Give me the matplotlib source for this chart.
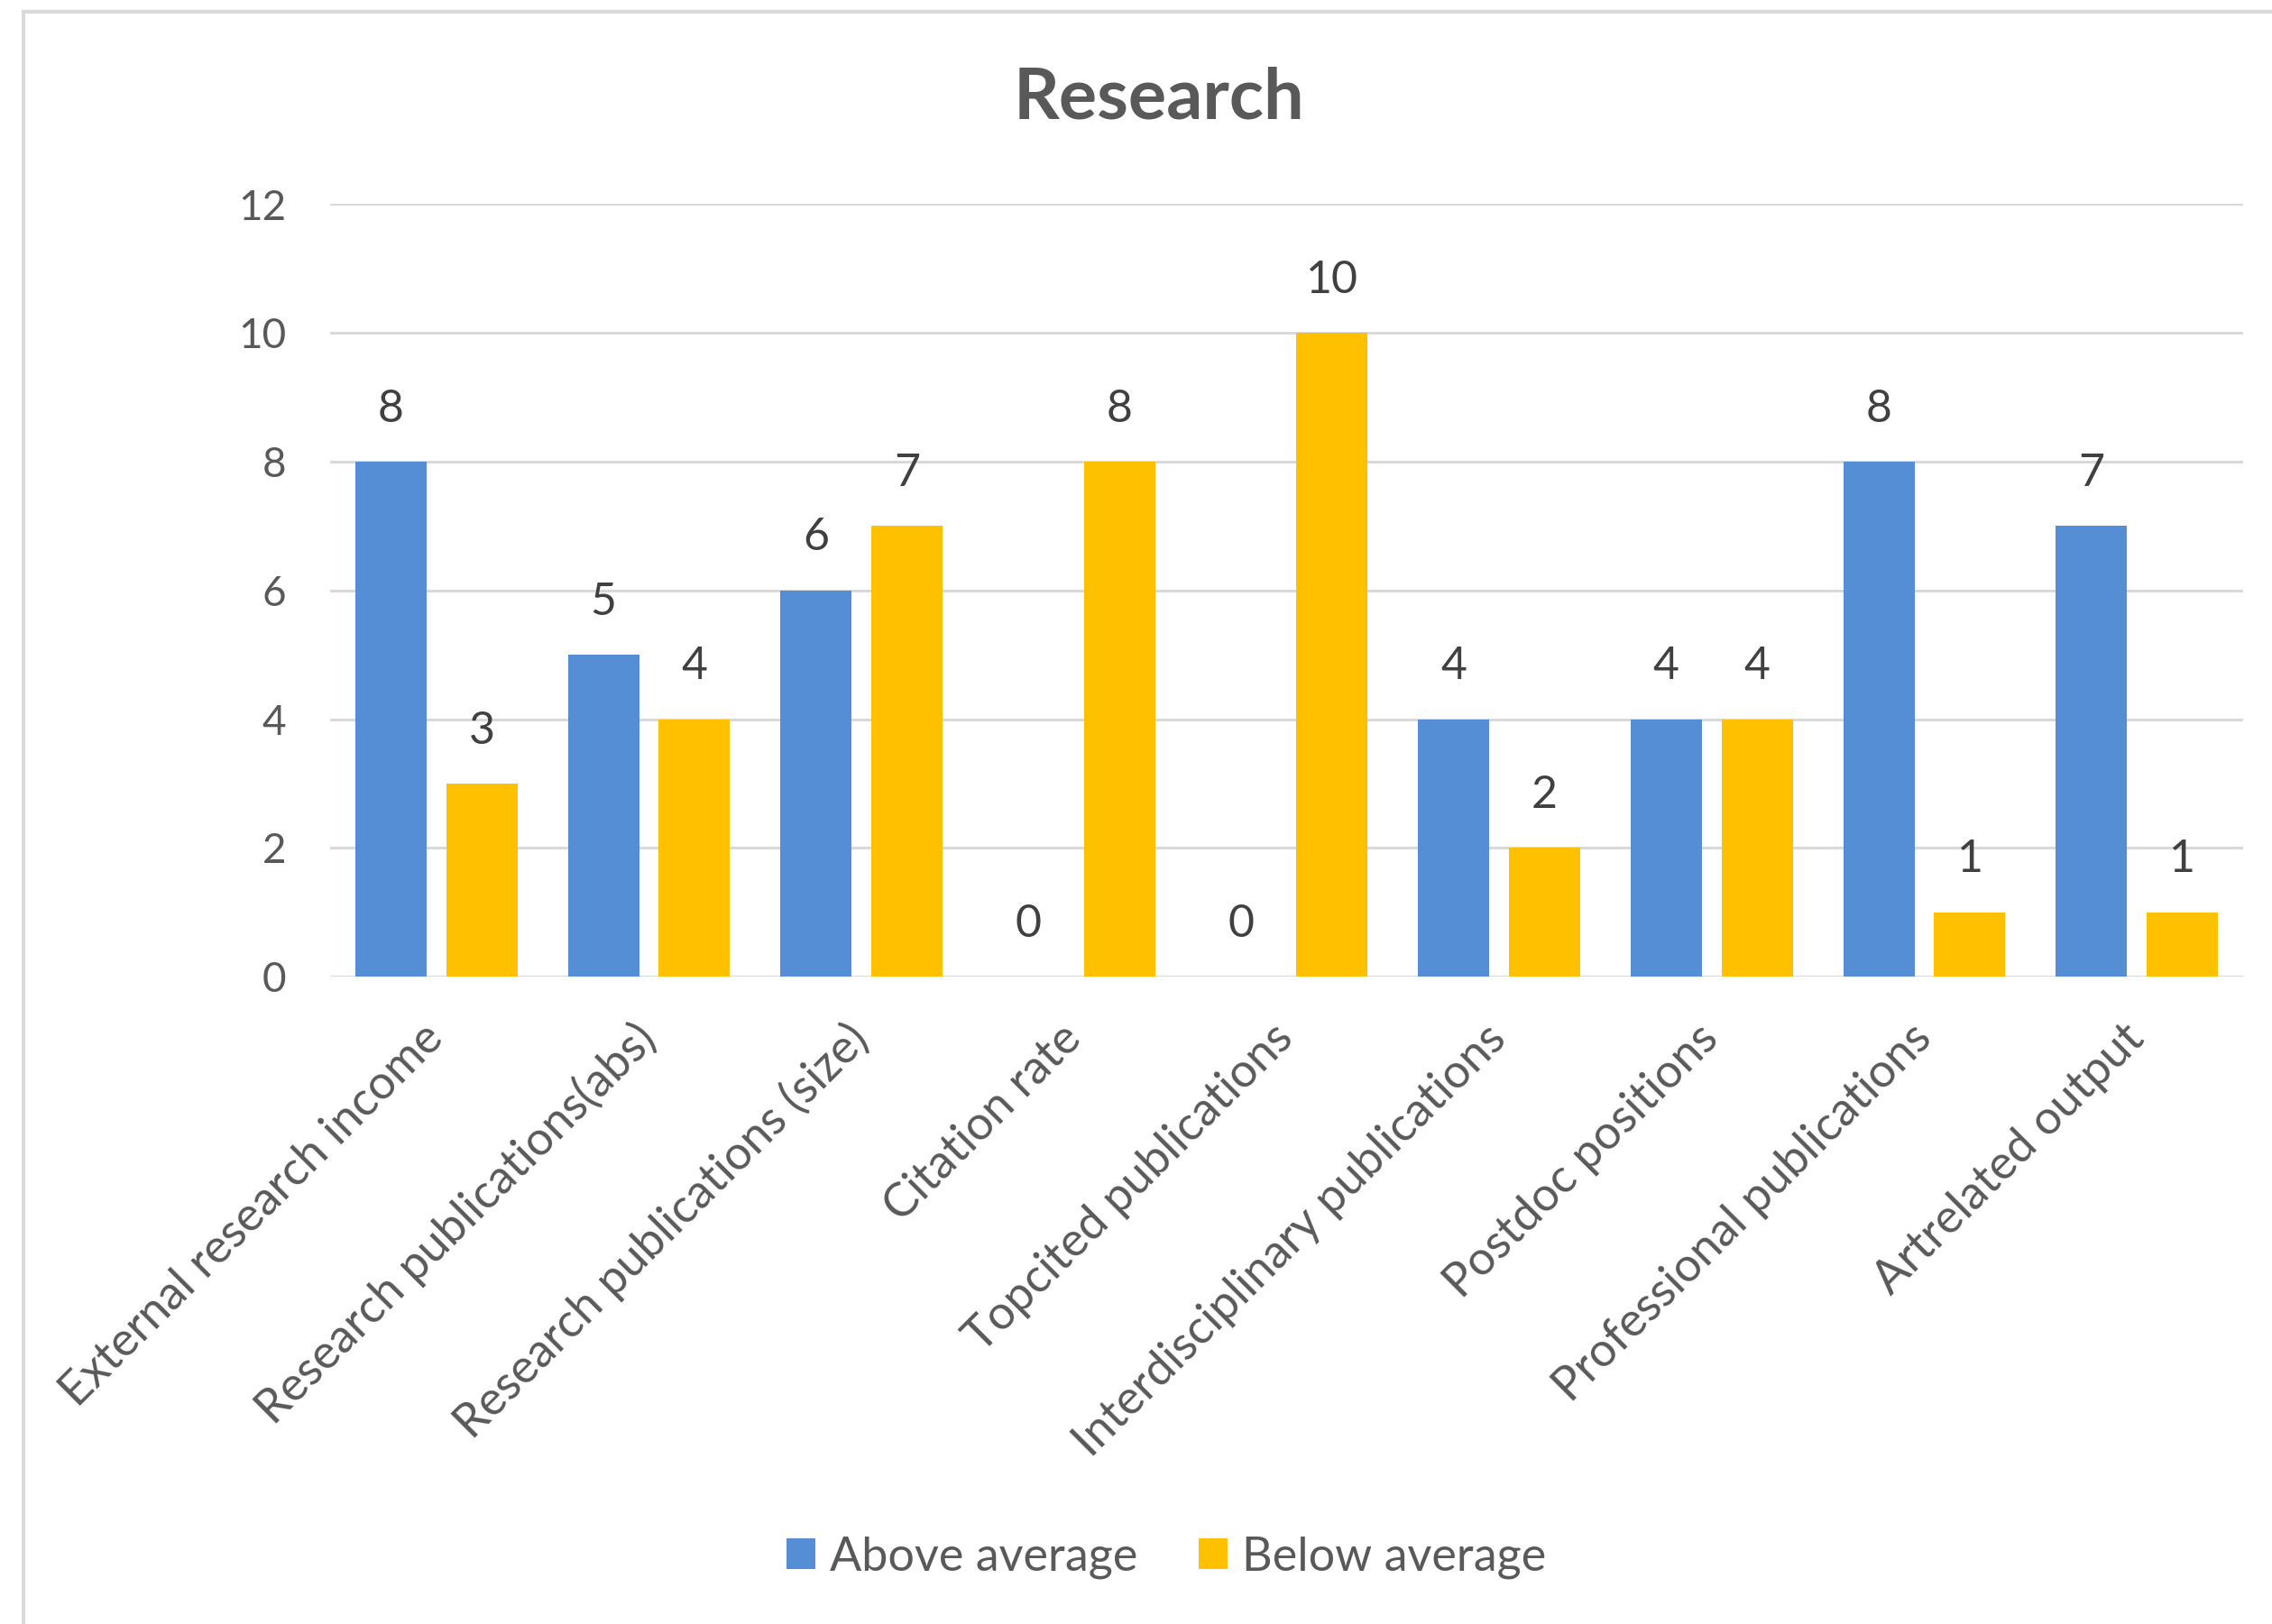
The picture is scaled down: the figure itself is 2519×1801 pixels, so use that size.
import matplotlib
matplotlib.use("Agg")
import matplotlib.pyplot as plt
import numpy as np
from matplotlib.patches import Rectangle, Patch

categories = ["External research income", "Research publications(abs)",
              "Research publications (size)", "Citation rate",
              "Topcited publications", "Interdisciplinary publications",
              "Postdoc positions", "Professional publications", "Artrelated output"]
above = [8, 5, 6, 0, 0, 4, 4, 8, 7]
below = [3, 4, 7, 8, 10, 2, 4, 1, 1]
series_names = ["Above average", "Below average"]
yticks = [0, 2, 4, 6, 8, 10, 12]

BLUE = "#558ED5"
YELLOW = "#FFC000"
TXT = "#595959"
GRID = "#D9D9D9"

plt.rcParams['font.family'] = ['Lato', 'DejaVu Sans']

W, H = 2519, 1801
fig = plt.figure(figsize=(W / 100, H / 100), dpi=100)

# chart frame (clipped at right/bottom like the reference)
fig.patches.append(Rectangle((26 / W, -0.2), 2.0, (1 - 13 / H) + 0.2,
                             transform=fig.transFigure, fill=False,
                             edgecolor=GRID, linewidth=3.0))

ax = fig.add_axes([366 / W, 1 - 1083 / H, (2487 - 366) / W, (1083 - 226.5) / H])

x = np.arange(len(categories))
bw = 0.335
off = 0.214
b1 = ax.bar(x - off, above, bw, color=BLUE, zorder=3)
b2 = ax.bar(x + off, below, bw, color=YELLOW, zorder=3)

for rects, vals in ((b1, above), (b2, below)):
    for r, v in zip(rects, vals):
        ax.annotate(str(v), (r.get_x() + r.get_width() / 2, v),
                    xytext=(0, 42), textcoords="offset points",
                    ha="center", va="center", fontsize=36, color="#404040")

ax.set_xlim(-0.5, len(categories) - 0.5)
ax.set_ylim(0, 12)
ax.set_yticks(yticks)
ax.yaxis.grid(True, color=GRID, linewidth=2.2, zorder=0)
ax.set_axisbelow(True)
for s in ax.spines.values():
    s.set_visible(False)
ax.tick_params(axis="y", length=0, pad=35, labelsize=33, labelcolor=TXT)
ax.tick_params(axis="x", length=0, pad=44)
ax.set_xticks(x)
ax.set_xticklabels(categories, rotation=45, ha="right", va="center",
                   rotation_mode="anchor", fontsize=37.5, color=TXT)

fig.text(1285 / W, 1 - 109 / H, "Research", ha="center", va="center",
         fontsize=57, fontweight="bold", color=TXT)

handles = [Patch(facecolor=BLUE), Patch(facecolor=YELLOW)]
fig.legend(handles, series_names, loc="center", bbox_to_anchor=(1293 / W, 1 - 1727 / H),
           ncol=2, frameon=False, fontsize=37.5, labelcolor=TXT,
           handlelength=0.62, handleheight=0.62, handletextpad=0.3, columnspacing=1.3)

fig.savefig("out.png", dpi=100, facecolor="white")
